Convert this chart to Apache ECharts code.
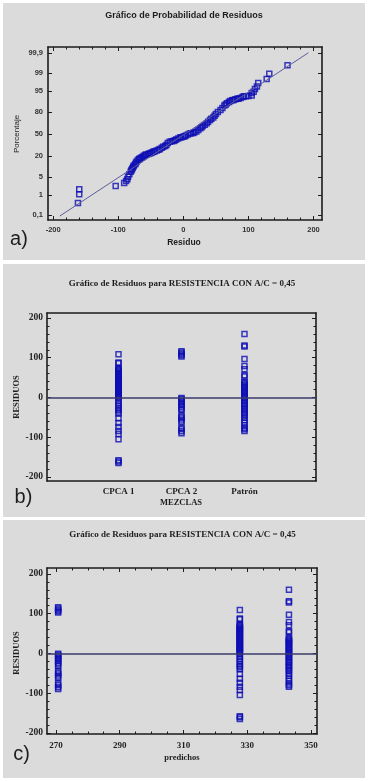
<!DOCTYPE html>
<html>
<head>
<meta charset="utf-8">
<script src="https://cdn.jsdelivr.net/npm/echarts@6/dist/echarts.min.js"></script>
<style>
  html, body { margin: 0; padding: 0; background: #fff; }
  body { width: 368px; height: 781px; position: relative; overflow: hidden; }
  .panel { position: absolute; left: 3px; width: 362px; background: #dbdbdb; }
  #pa { top: 3px; height: 257px; }
  #pb { top: 264px; height: 253px; }
  #pc { top: 520px; height: 258px; }
</style>
</head>
<body>
<div id="pa" class="panel"></div>
<div id="pb" class="panel"></div>
<div id="pc" class="panel"></div>
<script>
// a) grafico de probabilidad: residuo y porcentaje acumulado
const residuo = [-162, -160, -160, -104, -91, -88, -86, -85, -83, -81, -80, -79, -78, -77, -76, -74, -73, -72, -70, -68,
  -67, -65, -63, -61, -59, -57, -54, -52, -50, -48, -46, -44, -41, -38, -36, -33, -31, -28, -26, -24,
  -21, -18, -15, -13, -11, -8, -5, -3, 0, 2, 4, 7, 10, 12, 15, 17, 20, 23, 26, 28,
  30, 33, 36, 38, 41, 43, 46, 48, 50, 53, 57, 60, 63, 65, 67, 70, 72, 75, 77, 80,
  83, 85, 88, 91, 93, 96, 100, 105, 105, 108, 110, 113, 115, 128, 132, 160]
const porcentaje = [0.44, 1.1, 1.8, 2.4, 3.1, 3.7, 4.3, 5.2, 6.3, 7.5, 8.2, 9.0, 9.8, 10.6, 11.6, 12.6, 13.5, 14.5, 16.1, 16.8,
  17.6, 18.3, 19.0, 20.1, 21.2, 21.8, 22.3, 23.0, 23.6, 24.2, 24.9, 25.6, 26.4, 27.4, 28.4, 30.0, 31.5, 32.6, 33.7, 36.6,
  38.6, 39.0, 39.4, 40.6, 41.7, 43.2, 44.7, 45.3, 46.0, 46.8, 47.6, 49.2, 50.8, 51.2, 51.5, 52.6, 53.8, 56.2, 58.6, 60.3,
  62.0, 63.9, 65.8, 68.0, 70.3, 72.0, 73.6, 75.6, 77.7, 79.8, 82.0, 83.9, 86.2, 87.0, 87.9, 88.8, 89.6, 90.0, 90.3, 90.7,
  91.0, 91.2, 91.5, 92.0, 92.4, 92.5, 92.6, 92.9, 94.1, 94.6, 95.7, 96.5, 97.4, 98.2, 98.9, 99.55]
// recta ajustada (extremos)
const rectaResiduo = [-190, 192]
const rectaPorcentaje = [0.09, 99.9]
const pctTicks = [0.1, 1, 5, 20, 50, 80, 95, 99, 99.9]

// b) y c) residuos por mezcla
const mezclas = ['CPCA 1', 'CPCA 2', 'Patrón']
const predichos = [327.7, 270.7, 343.1]
const residCPCA1 = [109, 88, 86, 73, 71, 69, 66, 64, 61, 60, 57, 54, 52, 50, 46, 44, 42, 39, 36, 35, 32, 29, 27, 24, 22, 18, 16, 14, 11, 9, 6, 4, 1, -2, -9, -15, -20, -26, -31, -35, -40, -52, -64, -74, -84, -92, -105, -158, -161, -165]
const residCPCA2 = [116, 113, 110, 106, 103, -1, -4, -8, -11, -15, -19, -24, -28, -32, -45, -49, -53, -58, -62, -76, -80, -85, -90]
const residPatron = [160, 131, 128, 97, 79, 71, 56, 53, 39, 37, 34, 31, 29, 26, 23, 20, 16, 13, 10, 7, 4, 1, -2, -6, -9, -13, -17, -21, -25, -29, -33, -37, -41, -45, -51, -57, -63, -69, -76, -80, -84]
const grupos = [residCPCA1, residCPCA2, residPatron]

const AXIS_COLOR = '#1c1c1c'
const MARK_COLOR = '#0c0cb4'
const SANS = 'Liberation Sans'
const SERIF = 'Liberation Serif'

// normal inversa (Acklam), para la escala de probabilidad
function probit(p) {
  const a = [-3.969683028665376e+01, 2.209460984245205e+02, -2.759285104469687e+02, 1.383577518672690e+02, -3.066479806614716e+01, 2.506628277459239e+00]
  const b = [-5.447609879822406e+01, 1.615858368580409e+02, -1.556989798598866e+02, 6.680131188771972e+01, -1.328068155288572e+01]
  const c = [-7.784894002430293e-03, -3.223964580411365e-01, -2.400758277161838e+00, -2.549732539343734e+00, 4.374664141464968e+00, 2.938163982698783e+00]
  const d = [7.784695709041462e-03, 3.224671290700398e-01, 2.445134137142996e+00, 3.754408661907416e+00]
  const tail = q => (((((c[0] * q + c[1]) * q + c[2]) * q + c[3]) * q + c[4]) * q + c[5]) / ((((d[0] * q + d[1]) * q + d[2]) * q + d[3]) * q + 1)
  if (p < 0.02425)
    return tail(Math.sqrt(-2 * Math.log(p)))
  if (p > 1 - 0.02425)
    return -tail(Math.sqrt(-2 * Math.log(1 - p)))
  const q = p - 0.5
  const r = q * q
  return (((((a[0] * r + a[1]) * r + a[2]) * r + a[3]) * r + a[4]) * r + a[5]) * q / (((((b[0] * r + b[1]) * r + b[2]) * r + b[3]) * r + b[4]) * r + 1)
}

function range(from, to, step) {
  const out = []
  for (let v = from; v <= to + 1e-9; v += step) out.push(+v.toFixed(6))
  return out
}

// caja con ticks hacia dentro en los dos lados (mayores y menores)
function frame(dim, min, max, major, minor, label) {
  const sides = dim === 'x' ? ['bottom', 'top'] : ['left', 'right']
  const axes = []
  sides.forEach((side, i) => {
    axes.push({
      type: 'value', position: side, min, max,
      axisLine: { show: true, onZero: false, lineStyle: { color: AXIS_COLOR, width: 1.6 } },
      axisTick: major ? { show: true, inside: true, length: 4, customValues: major, lineStyle: { color: AXIS_COLOR, width: 1 } } : { show: false },
      axisLabel: i === 0 ? label : { show: false },
      splitLine: { show: false },
    })
    if (minor) {
      axes.push({
        type: 'value', position: side, min, max,
        axisLine: { show: false, onZero: false },
        axisTick: { show: true, inside: true, length: 2.5, customValues: minor, lineStyle: { color: AXIS_COLOR, width: 1 } },
        axisLabel: { show: false },
        splitLine: { show: false },
      })
    }
  })
  return axes
}

function text(x, y, str, size, family, weight, rotate) {
  return {
    type: 'text', x, y, rotation: rotate ? Math.PI / 2 : 0, silent: true,
    style: { text: str, fontSize: size, fontFamily: family, fontWeight: weight, fill: '#1e1e1e', align: 'center', verticalAlign: 'middle' },
  }
}

const markStyle = { color: 'rgba(0,0,0,0)', borderColor: MARK_COLOR, borderWidth: 1.5 }

// ---------- a) ----------
const zTicks = pctTicks.map(p => probit(p / 100))
const chartA = echarts.init(document.getElementById('pa'))
chartA.setOption({
  animation: false,
  grid: { left: 45, top: 44, width: 274, height: 173, outerBoundsMode: 'none' },
  xAxis: frame('x', -208, 213, [-200, -100, 0, 100, 200], range(-200, 200, 20), {
    customValues: [-200, -100, 0, 100, 200], margin: 6,
    fontFamily: SANS, fontWeight: 'bold', fontSize: 7.5, color: '#333',
  }),
  yAxis: frame('y', -3.27, 3.31, zTicks, null, {
    customValues: zTicks, margin: 5,
    fontFamily: SANS, fontWeight: 'bold', fontSize: 7.5, color: '#333',
    formatter: (v) => {
      let best = 0
      zTicks.forEach((z, i) => { if (Math.abs(z - v) < Math.abs(zTicks[best] - v)) best = i })
      return String(pctTicks[best]).replace('.', ',')
    },
  }),
  series: [
    {
      type: 'line', xAxisIndex: 0, yAxisIndex: 0, showSymbol: false, silent: true,
      data: rectaResiduo.map((r, i) => [r, probit(rectaPorcentaje[i] / 100)]),
      lineStyle: { color: '#5c5c9c', width: 1 },
    },
    {
      type: 'scatter', xAxisIndex: 0, yAxisIndex: 0, symbol: 'rect', symbolSize: 5,
      data: residuo.map((r, i) => [r, probit(porcentaje[i] / 100)]),
      itemStyle: markStyle,
    },
  ],
  graphic: [
    text(181, 12.5, 'Gráfico de Probabilidad de Residuos', 9, SANS, 'bold'),
    text(14, 131, 'Porcentaje', 8, SANS, 'normal', true),
    text(181, 240, 'Residuo', 8.5, SANS, 'bold'),
    text(16, 236, 'a)', 20, SANS, 'normal'),
  ],
})

// ---------- b) ----------
const chartB = echarts.init(document.getElementById('pb'))
chartB.setOption({
  animation: false,
  grid: { left: 44, top: 49, width: 269, height: 168, outerBoundsMode: 'none' },
  xAxis: frame('x', -0.135, 4.135, null, null, {
    customValues: [1, 2, 3], margin: 6,
    fontFamily: SERIF, fontWeight: 'bold', fontSize: 9, color: '#1e1e1e',
    formatter: v => mezclas[Math.round(v) - 1],
  }),
  yAxis: frame('y', -210, 212.5, [-200, -100, 0, 100, 200], range(-200, 200, 20), {
    customValues: [-200, -100, 0, 100, 200], margin: 4,
    fontFamily: SERIF, fontWeight: 'bold', fontSize: 9.5, color: '#1e1e1e',
  }),
  series: [{
    type: 'scatter', xAxisIndex: 0, yAxisIndex: 0, symbol: 'rect', symbolSize: 5,
    data: grupos.flatMap((g, k) => g.map(r => [k + 1, r])),
    itemStyle: markStyle,
    markLine: {
      silent: true, symbol: 'none', label: { show: false },
      lineStyle: { color: '#3b3b6b', width: 1.5, type: 'solid' },
      data: [{ yAxis: 0 }],
    },
  }],
  graphic: [
    text(179, 19.5, 'Gráfico de Residuos para RESISTENCIA CON A/C = 0,45', 9, SERIF, 'bold'),
    text(14, 133, 'RESIDUOS', 8.5, SERIF, 'bold', true),
    text(178, 239, 'MEZCLAS', 8.5, SERIF, 'bold'),
    text(20.5, 233, 'b)', 20, SANS, 'normal'),
  ],
})

// ---------- c) ----------
const chartC = echarts.init(document.getElementById('pc'))
chartC.setOption({
  animation: false,
  grid: { left: 44, top: 48, width: 270, height: 166, outerBoundsMode: 'none' },
  xAxis: frame('x', 267.2, 351.9, range(270, 350, 20), range(270, 350, 5), {
    customValues: range(270, 350, 20), margin: 7,
    fontFamily: SERIF, fontWeight: 'bold', fontSize: 9, color: '#1e1e1e',
  }),
  yAxis: frame('y', -203, 215, [-200, -100, 0, 100, 200], range(-200, 200, 20), {
    customValues: [-200, -100, 0, 100, 200], margin: 4,
    fontFamily: SERIF, fontWeight: 'bold', fontSize: 9.5, color: '#1e1e1e',
  }),
  series: [{
    type: 'scatter', xAxisIndex: 0, yAxisIndex: 0, symbol: 'rect', symbolSize: 5,
    data: grupos.flatMap((g, k) => g.map(r => [predichos[k], r])),
    itemStyle: markStyle,
    markLine: {
      silent: true, symbol: 'none', label: { show: false },
      lineStyle: { color: '#3b3b6b', width: 1.5, type: 'solid' },
      data: [{ yAxis: 0 }],
    },
  }],
  graphic: [
    text(179.5, 15, 'Gráfico de Residuos para RESISTENCIA CON A/C = 0,45', 9, SERIF, 'bold'),
    text(14, 133, 'RESIDUOS', 8.5, SERIF, 'bold', true),
    text(179, 238, 'predichos', 8.5, SERIF, 'bold'),
    text(18.5, 234, 'c)', 20, SANS, 'normal'),
  ],
})
</script>
</body>
</html>
